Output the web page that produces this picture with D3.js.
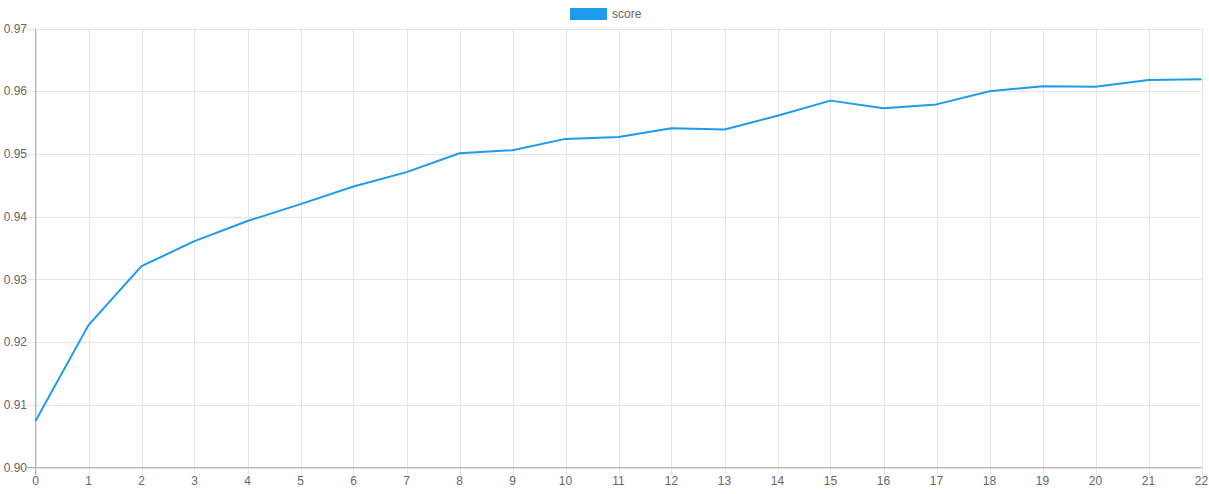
<!DOCTYPE html>
<html><head><meta charset="utf-8">
<script src="https://cdn.jsdelivr.net/npm/d3@7"></script>
<style>body{margin:0;background:#fff;} svg{display:block;font-family:"Liberation Sans",Arial,Helvetica,sans-serif;}</style>
</head><body>
<script>
const epochs = d3.range(0, 23);
const scores = [0.9074, 0.9227, 0.9321, 0.9361, 0.9393, 0.9420, 0.9448, 0.9471, 0.9501, 0.9506, 0.9524, 0.9527, 0.9541, 0.9539, 0.9561, 0.9585, 0.9573, 0.9579, 0.9600, 0.9608, 0.9607, 0.9618, 0.9619];
const yTicks = [0.90, 0.91, 0.92, 0.93, 0.94, 0.95, 0.96, 0.97];
const seriesName = "score";

const W = 1209, H = 494;
const m = {left: 35.5, right: 8, top: 28.5, bottom: 27};
const svg = d3.select("body").append("svg").attr("width", W).attr("height", H);
const x = d3.scaleLinear().domain([0, 22]).range([m.left, 1201.5]);
const y = d3.scaleLinear().domain([0.90, 0.97]).range([467.5, m.top]);
const gridColor = "#e6e6e6", textColor = "#666";

// grid vertical
svg.append("g").selectAll("line").data(epochs).join("line")
  .attr("x1", d => Math.round(x(d)) + 0.5).attr("x2", d => Math.round(x(d)) + 0.5)
  .attr("y1", m.top).attr("y2", 475)
  .attr("stroke", gridColor);
// grid horizontal
svg.append("g").selectAll("line").data(yTicks).join("line")
  .attr("x1", 27).attr("x2", 1201.5)
  .attr("y1", d => Math.round(y(d)) + 0.5).attr("y2", d => Math.round(y(d)) + 0.5)
  .attr("stroke", gridColor);
// axes lines
svg.append("line").attr("x1", m.left).attr("x2", m.left).attr("y1", m.top).attr("y2", 475).attr("stroke", "#b3b3b3");
svg.append("line").attr("x1", 27).attr("x2", 1201.5).attr("y1", 467.5).attr("y2", 467.5).attr("stroke", "#b3b3b3");

// y labels
svg.append("g").selectAll("text").data(yTicks).join("text")
  .attr("x", 27).attr("y", d => y(d)).attr("dy", "0.35em")
  .attr("text-anchor", "end").attr("font-size", 12).attr("fill", textColor)
  .text(d => d3.format(".2f")(d));
// x labels
svg.append("g").selectAll("text").data(epochs).join("text")
  .attr("x", d => x(d)).attr("y", 485)
  .attr("text-anchor", "middle").attr("font-size", 12).attr("fill", textColor)
  .text(d => d);

// line
const color = "#1e9bea";
svg.append("path").datum(scores)
  .attr("fill", "none").attr("stroke", color).attr("stroke-width", 2).attr("stroke-linejoin", "round")
  .attr("d", d3.line().x((d, i) => x(epochs[i])).y(d => y(d)));

// legend
svg.append("rect").attr("x", 570).attr("y", 8).attr("width", 37).attr("height", 12).attr("fill", color);
svg.append("text").attr("x", 612).attr("y", 14).attr("dy", "0.35em").attr("font-size", 12).attr("fill", textColor).text(seriesName);
</script>
</body></html>
